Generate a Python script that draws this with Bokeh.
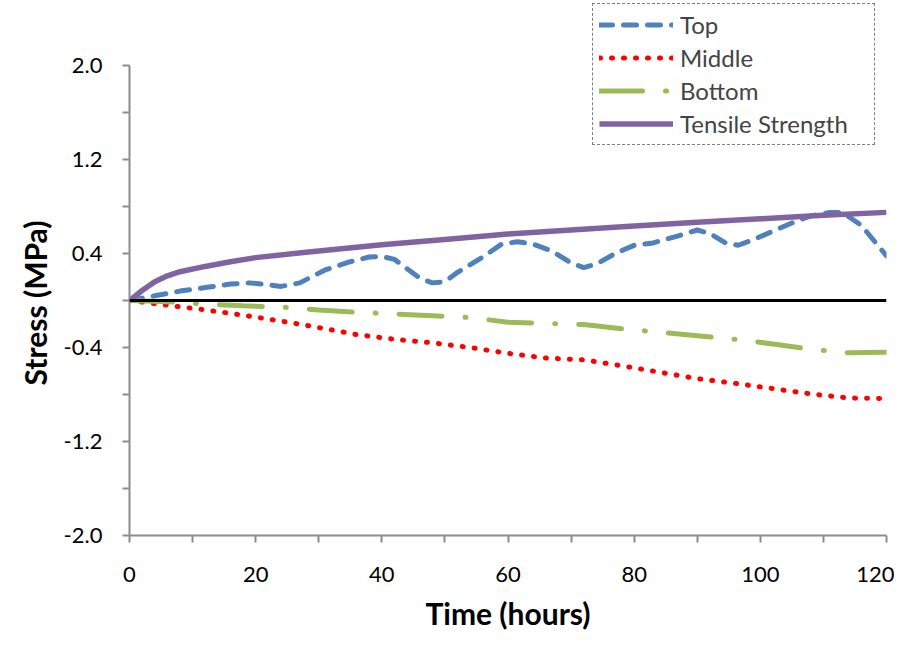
from bokeh.plotting import figure
from bokeh.models import Range1d, FixedTicker, Span, Legend, LegendItem, PrintfTickFormatter, Title
from bokeh.embed import file_html
from bokeh.resources import INLINE

# ---- data ----
top_t = [0, 4, 8, 12, 16, 19, 21, 24, 27, 31, 35, 38, 40, 42, 44, 46, 48, 50, 52, 56, 59,
         61.5, 64, 67, 70, 72, 74, 77, 80, 83, 87, 90, 92, 94.5, 96.5, 99, 102, 105, 108,
         111, 113, 116, 120]
top_s = [0, 0.04, 0.08, 0.11, 0.14, 0.15, 0.14, 0.12, 0.15, 0.26, 0.33, 0.37, 0.375, 0.35,
         0.27, 0.19, 0.15, 0.16, 0.24, 0.37, 0.48, 0.50, 0.48, 0.42, 0.32, 0.28, 0.31, 0.40,
         0.47, 0.49, 0.55, 0.60, 0.57, 0.49, 0.47, 0.52, 0.59, 0.66, 0.72, 0.75, 0.75, 0.64,
         0.38]

mid_t = [0, 6, 12, 18, 24, 30, 36, 42, 48, 54, 60, 66, 72, 78, 84, 90, 96, 102, 108, 114, 120]
mid_s = [0, -0.04, -0.08, -0.125, -0.175, -0.23, -0.29, -0.33, -0.36, -0.40, -0.45, -0.49,
         -0.505, -0.555, -0.61, -0.665, -0.705, -0.75, -0.795, -0.83, -0.835]

bot_t = [0, 6, 12, 18, 24, 30, 36, 42, 48, 54, 60, 66, 72, 78, 84, 90, 96, 102, 108, 114, 120]
bot_s = [0, -0.01, -0.03, -0.045, -0.055, -0.08, -0.10, -0.115, -0.13, -0.145, -0.185, -0.195,
         -0.205, -0.24, -0.27, -0.30, -0.33, -0.37, -0.415, -0.445, -0.44]

ten_t = [0, 2, 4, 6, 8, 12, 16, 20, 28, 40, 50, 60, 70, 80, 90, 100, 110, 120]
ten_s = [0, 0.085, 0.16, 0.21, 0.245, 0.29, 0.33, 0.365, 0.41, 0.475, 0.52, 0.565, 0.60,
         0.635, 0.665, 0.695, 0.725, 0.75]

series_names = ["Top", "Middle", "Bottom", "Tensile Strength"]
x_major = [0, 20, 40, 60, 80, 100, 120]
x_minor = [10, 30, 50, 70, 90, 110]
y_major = [-2.0, -1.2, -0.4, 0.4, 1.2, 2.0]
y_minor = [-1.6, -0.8, 0.0, 0.8, 1.6]
x_title = "Time (hours)"
y_title = "Stress (MPa)"

FONT = "Lato"

# frame: 757 x 535 px; y = 2.0 sits 65 px below the frame top (room for the legend)
Y_TOP = 2.0 + 65 * (4.0 / 470)

p = figure(output_backend="svg", toolbar_location=None,
           x_range=Range1d(0, 120), y_range=Range1d(-2, Y_TOP),
           frame_width=757, frame_height=535,
           min_border_left=129, min_border_top=0, min_border_right=8, min_border_bottom=100)
p.outline_line_color = None
p.grid.visible = False
p.background_fill_color = "white"
p.border_fill_color = "white"

axis_col = "#8c8c8c"
for ax in (p.xaxis[0], p.yaxis[0]):
    ax.axis_line_color = axis_col
    ax.axis_line_width = 2
    ax.major_tick_line_color = axis_col
    ax.minor_tick_line_color = axis_col
    ax.major_tick_line_width = 2
    ax.minor_tick_line_width = 2
    ax.major_tick_in = 0
    ax.minor_tick_in = 0
    ax.major_tick_out = 7
    ax.minor_tick_out = 7
    ax.major_label_text_font = FONT
    ax.major_label_text_font_size = "22px"
    ax.major_label_text_color = "black"
    ax.axis_label_text_font = FONT
    ax.axis_label_text_font_style = "bold"
    ax.axis_label_text_font_size = "30px"
    ax.axis_label_text_color = "black"

p.yaxis.bounds = (-2, 2)
p.xaxis.ticker = FixedTicker(ticks=x_major, minor_ticks=x_minor)
p.yaxis.ticker = FixedTicker(ticks=y_major, minor_ticks=y_minor)
p.yaxis.formatter = PrintfTickFormatter(format="%.1f")
p.xaxis.axis_label = x_title
p.xaxis.major_label_standoff = 24
p.yaxis.major_label_standoff = 20
p.xaxis.axis_label_standoff = 10

# y-axis title as a side title so it can be centred on the -2..2 span
ytitle = Title(text=y_title, align="left", offset=150, standoff=16,
               text_font=FONT, text_font_style="bold", text_font_size="30px",
               text_color="black")
p.add_layout(ytitle, "left")

r_top = p.line(top_t, top_s, line_color="#4F81BD", line_width=5, line_dash="13 11", line_cap="round")
r_mid = p.line(mid_t, mid_s, line_color="#FF0000", line_width=5, line_dash="1 11", line_cap="round")
r_bot = p.line(bot_t, bot_s, line_color="#9BBB59", line_width=5, line_dash="43 23 1 23", line_cap="round")
r_ten = p.line(ten_t, ten_s, line_color="#8064A2", line_width=5.5)

zero = Span(location=0, dimension="width", line_color="black", line_width=3)
p.add_layout(zero)

legend = Legend(items=[LegendItem(label=n, renderers=[r]) for n, r in
                       zip(series_names, [r_top, r_mid, r_bot, r_ten])],
                orientation="vertical",
                border_line_color="black", border_line_dash="2 2", border_line_width=1,
                background_fill_color="white", background_fill_alpha=1,
                label_text_font=FONT, label_text_font_size="24px",
                glyph_width=74, glyph_height=29, label_standoff=7, label_width=188,
                padding=6, spacing=4, margin=0)
legend.location = (592 - 129, 535 - 145)
p.add_layout(legend, "center")

open("out.html", "w").write(file_html(p, INLINE))
